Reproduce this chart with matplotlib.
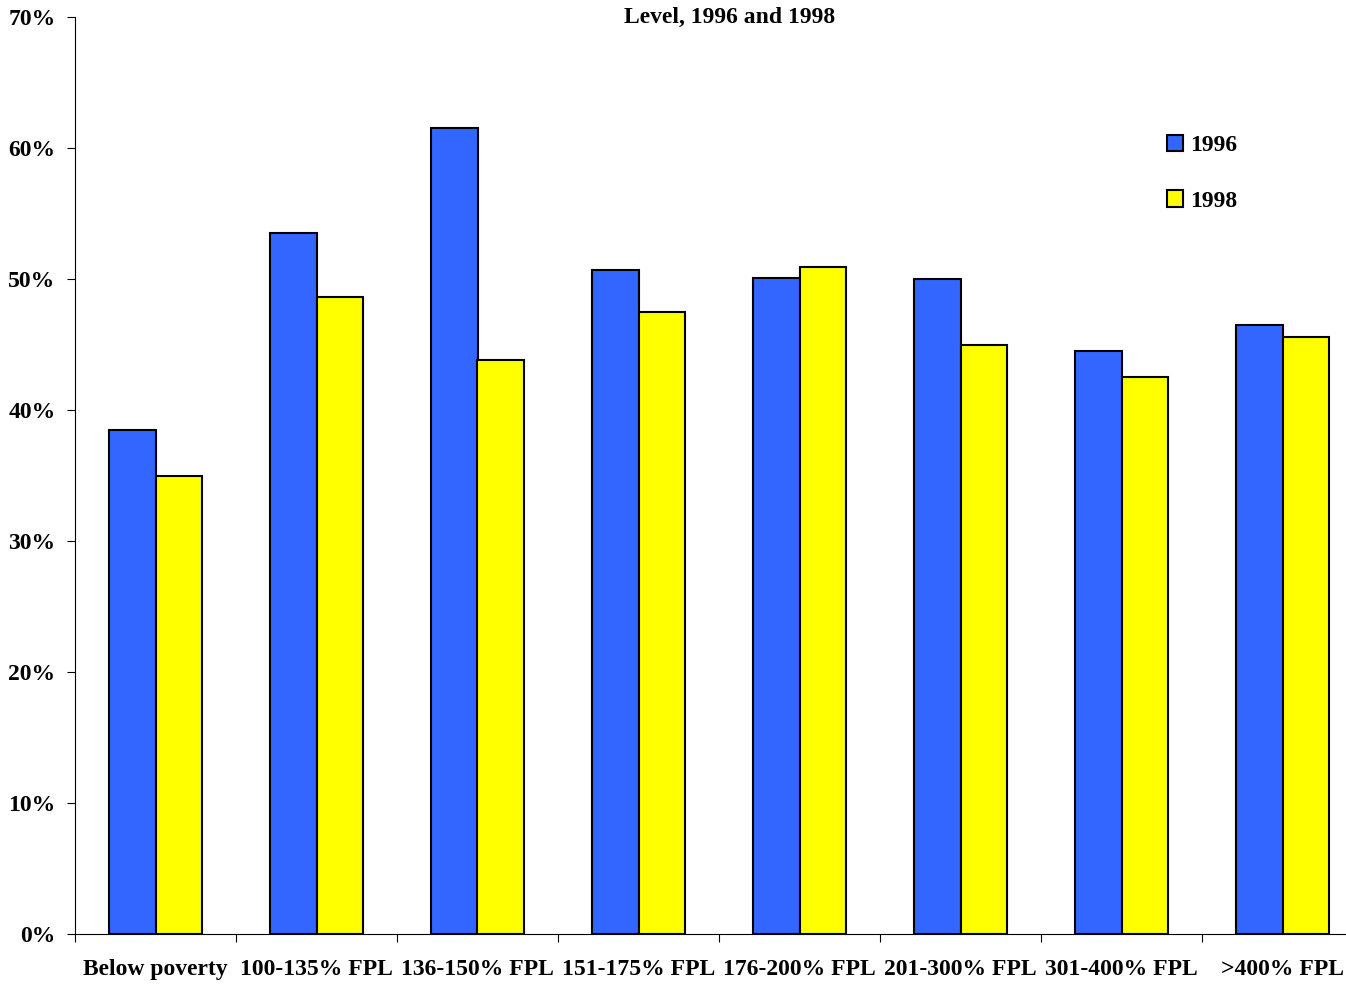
import matplotlib.pyplot as plt
import numpy as np

categories = ["Below poverty", "100-135% FPL", "136-150% FPL", "151-175% FPL",
              "176-200% FPL", "201-300% FPL", "301-400% FPL", ">400% FPL"]
vals_1996 = [38.5, 53.5, 61.5, 50.7, 50.1, 50.0, 44.5, 46.5]
vals_1998 = [35.0, 48.6, 43.8, 47.5, 50.9, 45.0, 42.5, 45.6]

plt.rcParams['font.family'] = ['Liberation Serif', 'DejaVu Serif']
plt.rcParams['font.weight'] = 'bold'

fig = plt.figure(figsize=(13.46, 9.84), dpi=100)
ax = fig.add_axes([75 / 1346, 50 / 984, 1288 / 1346, 917 / 984])

x = np.arange(len(categories))
w = 0.286
ax.bar(x - w / 2, vals_1996, w, color="#3366FF", edgecolor="black", lw=1.5, label="1996")
ax.bar(x + w / 2, vals_1998, w, color="#FFFF00", edgecolor="black", lw=1.5, label="1998")

ax.set_xlim(-0.5, len(categories) - 0.5)
ax.set_ylim(0, 70)
ax.set_yticks(range(0, 71, 10))
ax.set_yticklabels([f"{v}%" for v in range(0, 71, 10)], fontsize=17, fontweight="bold")
ax.set_xticks(np.arange(len(categories) + 1) - 0.5)
ax.set_xticklabels([])
ax.set_xticks(x, minor=True)
ax.set_xticklabels(categories, minor=True, fontsize=17, fontweight="bold")
ax.tick_params(axis="x", which="minor", length=0, pad=18)
ax.tick_params(axis="x", which="major", length=6, direction="out")
ax.tick_params(axis="y", length=6, direction="out", pad=8)
for s in ["top", "right"]:
    ax.spines[s].set_visible(False)

fig.text(0.542, 0.982, "Level, 1996 and 1998", ha="center", va="center",
         fontsize=17, fontweight="bold")

leg = ax.legend(loc="upper left", bbox_to_anchor=(0.831, 0.895), frameon=False,
                handlelength=0.7, handleheight=0.7, labelspacing=1.45,
                handletextpad=0.3, prop={"weight": "bold", "size": 17})

fig.savefig("out.png", dpi=100)
